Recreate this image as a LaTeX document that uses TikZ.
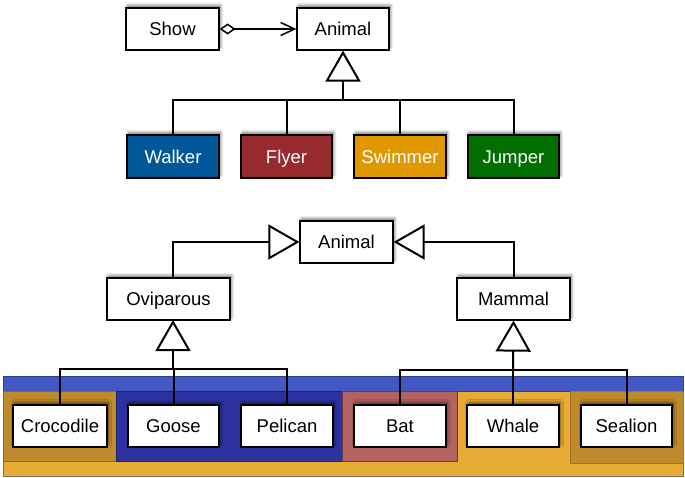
\documentclass[tikz,border=0pt]{standalone}
\usepackage{fontspec}
\setmainfont{Liberation Sans}
\usetikzlibrary{arrows.meta,shadows.blur,calc}
\definecolor{cwalker}{RGB}{0,88,155}
\definecolor{cflyer}{RGB}{150,42,46}
\definecolor{cswimmer}{RGB}{224,152,0}
\definecolor{cjumper}{RGB}{0,110,0}
\definecolor{bgyellow}{RGB}{232,171,53}
\definecolor{bgblue}{RGB}{66,88,196}
\definecolor{bgdarkblue}{RGB}{45,50,160}
\definecolor{bgtan}{RGB}{191,138,44}
\definecolor{bgbat}{RGB}{180,98,98}
\tikzset{
  box/.style={draw=black, line width=1.2pt, fill=white, inner sep=0pt,
    minimum height=42pt, font=\fontsize{18.5}{21}\selectfont,
    text height=13.3pt, text depth=0pt,
    blur shadow={shadow xshift=1.5pt, shadow yshift=2.5pt, shadow blur radius=3pt, shadow opacity=55}},
  cbox/.style={box, text=white},
  conn/.style={draw=black, line width=2pt},
  inh/.style={conn, -{Triangle[fill=white, length=31pt, width=35pt, line width=2pt]}},
  region/.style={line width=0.6pt},
}
\begin{document}
\begin{tikzpicture}[x=1pt,y=-1pt]
\useasboundingbox (0,0) rectangle (685,478);
% background regions
\filldraw[region, fill=bgyellow, draw=black!55] (3,376) rectangle (683,476);
\filldraw[region, fill=bgblue, draw=bgblue!70!black] (3,376) rectangle (683,391);
\filldraw[region, fill=bgtan, draw=bgtan!75!black] (3,391) rectangle (116,461);
\filldraw[region, fill=bgdarkblue, draw=bgdarkblue!70!black] (116,391) rectangle (342,461);
\filldraw[region, fill=bgbat, draw=bgbat!60!black] (342,391) rectangle (457,461);
\filldraw[region, fill=bgtan, draw=bgtan!85!black] (570,391) rectangle (683,463);

% top part
\node[box, minimum width=93pt] (show) at (172.5,29) {Show};
\node[box, minimum width=92pt] (animal) at (343,29) {Animal};
\node[cbox, fill=cwalker, minimum width=92pt, minimum height=43pt] (walker) at (173,156.5) {Walker};
\node[cbox, fill=cflyer, minimum width=91pt, minimum height=43pt] (flyer) at (286.5,156.5) {Flyer};
\node[cbox, fill=cswimmer, minimum width=92pt, minimum height=43pt] (swimmer) at (400,156.5) {Swimmer};
\node[cbox, fill=cjumper, minimum width=91pt, minimum height=43pt] (jumper) at (513.5,156.5) {Jumper};

\draw[conn, {Diamond[fill=white, length=16pt, width=11pt, line width=1.5pt]}-{Straight Barb[length=14pt, width=13pt, line width=1.5pt]}] (show.east) -- (animal.west);
\coordinate (j1) at (343,100);
\draw[conn] (walker.north) |- (j1) -| (jumper.north);
\draw[conn] (flyer.north) -- (flyer.north |- j1);
\draw[conn] (swimmer.north) -- (swimmer.north |- j1);
\draw[inh] (j1) -- (animal.south);

% bottom part
\node[box, minimum width=93pt] (animal2) at (346.5,242) {Animal};
\node[box, minimum width=123pt] (ovi) at (168.5,299) {Oviparous};
\node[box, minimum width=113pt] (mammal) at (513.5,299) {Mammal};
\node[box, minimum width=94pt] (croc) at (60,426) {Crocodile};
\node[box, minimum width=91pt] (goose) at (173.5,426) {Goose};
\node[box, minimum width=92pt] (pelican) at (287,426) {Pelican};
\node[box, minimum width=92pt] (bat) at (400,426) {Bat};
\node[box, minimum width=92pt] (whale) at (513,426) {Whale};
\node[box, minimum width=91pt] (sealion) at (626.5,426) {Sealion};

\coordinate (oviup) at (173,278);
\draw[inh] (oviup) |- (animal2.west);
\draw[inh] (mammal.north) |- (animal2.east);

\coordinate (j2) at (173,369);
\coordinate (oviadown) at (173,320);
\draw[conn] (croc.north) |- (j2) -| (pelican.north);
\draw[conn] (goose.north) -- (goose.north |- j2);
\draw[inh] (j2) -- (oviadown);

\coordinate (j3) at (513,370);
\draw[conn] (bat.north) |- (j3) -| (sealion.north);
\draw[conn] (whale.north) -- (whale.north |- j3);
\draw[inh] (j3) -- (mammal.south);
\end{tikzpicture}
\end{document}
